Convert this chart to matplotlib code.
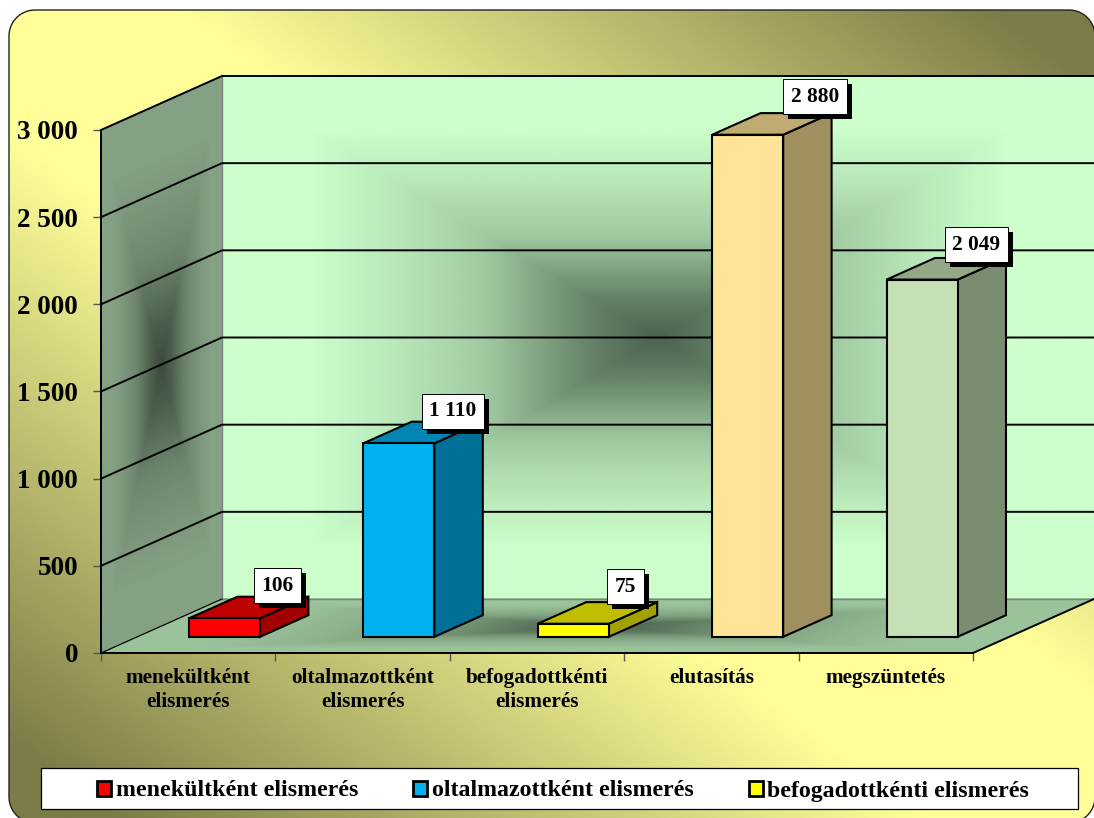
import numpy as np
import matplotlib
matplotlib.use("Agg")
import matplotlib.pyplot as plt
import matplotlib.patheffects as pe
from matplotlib.colors import LinearSegmentedColormap, to_rgb
from matplotlib.patches import Polygon, Rectangle

plt.rcParams['font.family'] = ['Liberation Serif', 'DejaVu Serif']
plt.rcParams['font.weight'] = 'bold'

categories = ["menekültként elismerés", "oltalmazottként elismerés",
              "befogadottkénti elismerés", "elutasítás", "megszüntetés"]
axis_labels = ["menekültként\nelismerés", "oltalmazottként\nelismerés",
               "befogadottkénti\nelismerés", "elutasítás", "megszüntetés"]
values = [106, 1110, 75, 2880, 2049]
yticks = [0, 500, 1000, 1500, 2000, 2500, 3000]
colors = ["#FF0000", "#00B2F0", "#FFFF00", "#FFE497", "#C4E0B4"]
label_nudge = [(29, 22), (30, 21), (28, 26), (43, 27), (30, 24)]

W, H = 1094, 818
DX = 121 / (872 / 5)      # depth of the box, in categories
DY = 54 / 523 * 3000      # depth of the box, in value units
BAR_W = 0.407
D0, D1 = 0.3, 0.7


def proj(x, v, d):
    return x + DX * d, v + DY * d


def path_grad(u, v):
    return np.maximum(np.abs(2 * u - 1), np.abs(2 * v - 1))


def grad_cmap(dark, light):
    dark, light = np.array(to_rgb(dark)), np.array(to_rgb(light))
    stops = [(0, 0), (0.15, 0.2), (0.4, 0.67), (0.6, 0.85), (0.8, 1), (1, 1)]
    return LinearSegmentedColormap.from_list(
        "g", [(p, tuple(dark + (light - dark) * k)) for p, k in stops])


def shade(col, k):
    return tuple(c * k for c in to_rgb(col))


def rounded_outline(x0, y0, x1, y1, r):
    pts = []
    corners = [(x0 + r, y0 + r, 180), (x1 - r, y0 + r, 270), (x1 - r, y1 - r, 0), (x0 + r, y1 - r, 90)]
    for cx, cy, start in corners:
        a = np.radians(np.linspace(start, start + 90, 20))
        pts += list(zip(cx + r * np.cos(a), cy + r * np.sin(a)))
    return pts


fig = plt.figure(figsize=(W / 100, H / 100), dpi=100, facecolor="white")

# rounded background panel
bg = fig.add_axes([0, 0, 1, 1], zorder=0)
bg.set_xlim(0, W)
bg.set_ylim(H, 0)
bg.axis("off")
xx, yy = np.meshgrid(np.linspace(0, 1, 400), np.linspace(0, 1, 400))
t = np.abs(xx - yy)
bg_cmap = LinearSegmentedColormap.from_list(
    "bg", [(0, "#FFFF99"), (0.15, "#FFFF99"), (0.9, "#7C7C48"), (1, "#7C7C48")])
im = bg.imshow(t, extent=(0, W, H, 0), cmap=bg_cmap, vmin=0, vmax=1, aspect="auto")
panel = Polygon(rounded_outline(9, 10, W + 1, 823, 26), closed=True, fc="none", ec="#222222",
                lw=1.0, zorder=3)
bg.add_patch(panel)
im.set_clip_path(panel)
bg.add_patch(Rectangle((41, 768), 1037, 41, fc="white", ec="black", lw=0.9, zorder=4))
bg.set_xlim(0, W)
bg.set_ylim(H, 0)

ax = fig.add_axes([101 / W, (H - 653) / H, 872 / W, 523 / H], zorder=1)
ax.patch.set_visible(False)
ax.set_xlim(0, 5)
ax.set_ylim(0, 3000)
for s in ("top", "right"):
    ax.spines[s].set_visible(False)
for s in ("left", "bottom"):
    ax.spines[s].set_linewidth(1.4)

n = 240
# back wall
u, v = np.meshgrid(np.linspace(0, 1, n), np.linspace(0, 1, n))
X, Y = proj(5 * u, 3000 * v, 1)
ax.pcolormesh(X, Y, path_grad(u, v), shading="gouraud", vmin=0, vmax=1,
              cmap=grad_cmap("#4C624E", "#CCFFCC"), clip_on=False, zorder=0.1)
# left wall
X, Y = proj(0 * u, 3000 * v, u)
ax.pcolormesh(X, Y, path_grad(u, v), shading="gouraud", vmin=0, vmax=1,
              cmap=grad_cmap("#3C4C3C", "#85A185"), clip_on=False, zorder=0.1)
# floor
X, Y = proj(5 * u, 0 * v, v)
ax.pcolormesh(X, Y, path_grad(u, v), shading="gouraud", vmin=0, vmax=1,
              cmap=grad_cmap("#4C624E", "#9BC39B"), clip_on=False, zorder=0.2)

# grid lines
for tick in yticks[1:]:
    xs, ys = zip(proj(0, tick, 0), proj(0, tick, 1), proj(5, tick, 1))
    ax.plot(xs, ys, color="black", lw=1.4, clip_on=False, zorder=0.5)
xs, ys = zip(proj(0, 0, 1), proj(0, 3000, 1))
ax.plot(xs, ys, color="#808080", lw=1.0, clip_on=False, zorder=0.4)
xs, ys = zip(proj(0, 0, 1), proj(5, 0, 1))
ax.plot(xs, ys, color="#808080", lw=1.0, clip_on=False, zorder=0.4)
xs, ys = zip(proj(0, 0, 0), proj(0, 0, 1))
ax.plot(xs, ys, color="black", lw=0.9, clip_on=False, zorder=0.5)
xs, ys = zip(proj(5, 0, 0), proj(5, 0, 1))
ax.plot(xs, ys, color="black", lw=1.4, clip_on=False, zorder=0.5)

# bars, front face through ax.bar, side and top from the same value
centers = np.arange(len(values)) + 0.5
x0, base = proj(centers, 0, D0)
bars = ax.bar(x0, values, bottom=base, width=BAR_W, color=colors, edgecolor="black",
              linewidth=1.5, clip_on=False, zorder=3)
for c, val, col in zip(centers, values, colors):
    l, r = c - BAR_W / 2, c + BAR_W / 2
    side = [proj(r, 0, D0), proj(r, 0, D1), proj(r, val, D1), proj(r, val, D0)]
    top = [proj(l, val, D0), proj(r, val, D0), proj(r, val, D1), proj(l, val, D1)]
    ax.add_patch(Polygon(side, fc=shade(col, 0.63), ec="black", lw=1.5, clip_on=False, zorder=2))
    ax.add_patch(Polygon(top, fc=shade(col, 0.75), ec="black", lw=1.5, clip_on=False, zorder=2))

# data labels
for c, val, nudge in zip(centers, values, label_nudge):
    ann = ax.annotate(f"{val:,}".replace(",", " "), proj(c, val, 0.5), xytext=nudge,
                      textcoords="offset pixels", ha="center", va="center", fontsize=15.4,
                      annotation_clip=False, zorder=6,
                      bbox=dict(boxstyle="square,pad=0.35", fc="white", ec="black", lw=0.7))
    ann.get_bbox_patch().set_path_effects(
        [pe.withSimplePatchShadow(offset=(3.6, -3.6), shadow_rgbFace="black", alpha=1.0)])

ax.set_yticks(yticks)
ax.set_yticklabels([f"{y:,}".replace(",", " ") for y in yticks], fontsize=19.5)
ax.set_xticks(np.arange(6))
ax.set_xticklabels([])
ax.set_xticks(centers, minor=True)
ax.set_xticklabels(axis_labels, minor=True, fontsize=15.3, linespacing=1.27)
ax.tick_params(axis="both", which="major", length=5.5, width=1.0, color="#555555")
ax.tick_params(axis="y", pad=11)
ax.tick_params(axis="x", which="minor", length=0, pad=11)

leg = fig.legend(bars[:3], categories[:3], loc="center", ncol=3, frameon=False, fontsize=17.2,
                 bbox_to_anchor=(563 / W, (H - 791) / H), handlelength=0.59, handleheight=0.59,
                 handletextpad=0.2, columnspacing=2.3, borderpad=0)
leg.set_zorder(5)
for h in leg.legend_handles:
    h.set_linewidth(2.0)

fig.savefig("out.png", dpi=100, facecolor="white")
